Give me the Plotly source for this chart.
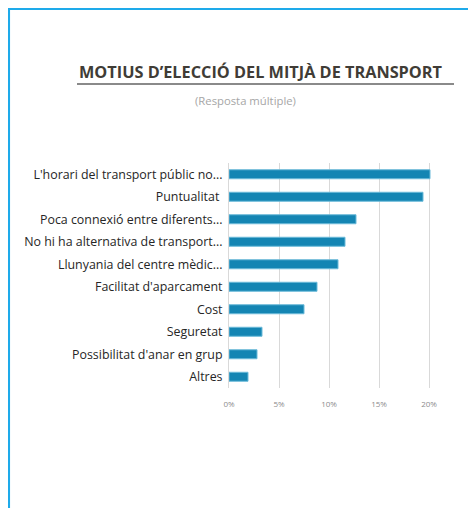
import plotly.graph_objects as go

categories = [
    "L'horari del transport públic no...",
    "Puntualitat ",
    "Poca connexió entre diferents...",
    "No hi ha alternativa de transport...",
    "Llunyania del centre mèdic...",
    "Facilitat d'aparcament",
    "Cost",
    "Seguretat",
    "Possibilitat d'anar en grup",
    "Altres",
]
values = [20.1, 19.4, 12.7, 11.6, 10.9, 8.8, 7.5, 3.3, 2.8, 1.9]
tick_vals = [0, 5, 10, 15, 20]
tick_text = ["0%", "5%", "10%", "15%", "20%"]

# page has an 8px body margin; figure fits the remaining window
OFF = 8
W, H = 476 - OFF, 508 - OFF
L, T = 229 - OFF, 163 - OFF
PB = 388 - OFF  # plot bottom in figure pixels
R, B = 0, H - PB
PW, PH = W - L - R, H - T - B

def px(x):
    return (x - OFF - L) / PW

def py(y):
    return (PB - (y - OFF)) / PH

fig = go.Figure(go.Bar(
    x=values, y=categories, orientation="h",
    marker=dict(color="#1485b3", line=dict(color="#6bbad9", width=1)),
    width=0.4,
))

shapes = [
    # blue frame
    dict(type="line", xref="paper", yref="paper", x0=px(8.8), x1=px(8.8), y0=py(7.5), y1=py(520),
         line=dict(color="#1eaaea", width=2.5)),
    dict(type="line", xref="paper", yref="paper", x0=px(7.6), x1=px(490), y0=py(9.0), y1=py(9.0),
         line=dict(color="#1eaaea", width=2.2)),
    # title underline
    dict(type="line", xref="paper", yref="paper", x0=px(77), x1=px(454), y0=py(84), y1=py(84),
         line=dict(color="#8a8a8a", width=1.8)),
]

annotations = [
    dict(text="MOTIUS D’ELECCIÓ DEL MITJÀ DE TRANSPORT", xref="paper", yref="paper",
         x=px(261), y=py(72), showarrow=False, xanchor="center", yanchor="middle",
         font=dict(family="Open Sans", size=16.3, color="#403c36", weight="bold")),
    dict(text="(Resposta múltiple)", xref="paper", yref="paper",
         x=px(245.5), y=py(100), showarrow=False, xanchor="center", yanchor="middle",
         font=dict(family="Open Sans", size=11.3, color="#a6a6a6")),
    dict(text="25%", xref="paper", yref="paper",
         x=px(472), y=py(403), showarrow=False, xanchor="left", yanchor="middle",
         font=dict(family="Open Sans", size=8, color="#8c8c8c")),
]

fig.update_layout(
    width=W, height=H,
    margin=dict(l=L, r=R, t=T, b=B, pad=0),
    paper_bgcolor="white", plot_bgcolor="white",
    showlegend=False,
    shapes=shapes,
    annotations=annotations,
    xaxis=dict(range=[0, PW / 10], tickvals=tick_vals, ticktext=tick_text,
               showgrid=True, gridcolor="#d9d9d9", gridwidth=1, zeroline=False,
               showline=False, ticks="", ticklabelstandoff=10,
               tickfont=dict(family="Open Sans", size=8, color="#8c8c8c"), fixedrange=True),
    yaxis=dict(autorange="reversed", showgrid=False, zeroline=False,
               showline=True, linecolor="#d9d9d9", linewidth=1, ticks="",
               ticklabelstandoff=3,
               tickfont=dict(family="Open Sans", size=12.4, color="#262626")),
)

fig.write_html("out.html")
